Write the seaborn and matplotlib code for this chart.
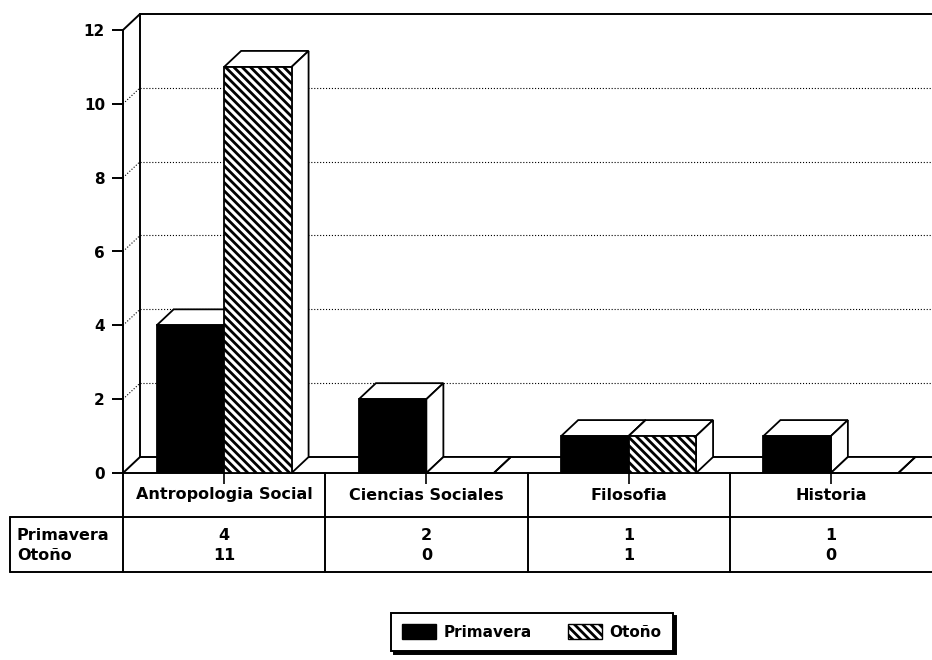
import matplotlib
matplotlib.use("Agg")
import matplotlib.pyplot as plt
import matplotlib.transforms as mtransforms
from matplotlib.patches import Polygon, Patch
from matplotlib.lines import Line2D
import seaborn as sns
import pandas as pd
import numpy as np

categorias = ["Antropologia Social", "Ciencias Sociales", "Filosofia", "Historia"]
series = ["Primavera", "Otoño"]
primavera = [4, 2, 1, 1]
otono = [11, 0, 1, 0]
yticks = [0, 2, 4, 6, 8, 10, 12]

df = pd.DataFrame({
    "Area": categorias * 2,
    "Semestre": [series[0]] * 4 + [series[1]] * 4,
    "Valor": primavera + otono,
})

sns.set_style("white")
plt.rcParams["font.family"] = ["DejaVu Sans"]
plt.rcParams["font.weight"] = "bold"
plt.rcParams["text.color"] = "black"
plt.rcParams["ytick.color"] = "black"
plt.rcParams["ytick.labelcolor"] = "black"
plt.rcParams["xtick.color"] = "black"
plt.rcParams["hatch.linewidth"] = 2.0

HATCH = "\\" * 4
W, H = 932, 660
fig = plt.figure(figsize=(W / 100, H / 100), dpi=100)
# front plane of the plot: x 123..932 px, y 473 (value 0) .. 13 px
ax = fig.add_axes([123 / W, (H - 473) / H, 809 / W, 460 / H])

sns.barplot(data=df, x="Area", y="Valor", hue="Semestre",
            palette={"Primavera": "black", "Otoño": "white"},
            width=0.667, edgecolor="black", linewidth=1.3,
            legend=False, ax=ax)

ax.set_xlim(-0.5, 3.5)
ax.set_ylim(0, 12 + 17 / (443 / 12))
sns.despine(ax=ax, left=True, bottom=True)
ax.set_xlabel("")
ax.set_ylabel("")

for bar in ax.containers[1]:
    bar.set_hatch(HATCH)

# depth of the 3D effect, px -> data units
o = ax.transData.transform((0, 0))
ddx, ddy = ax.transData.inverted().transform(o + np.array([17, 16]))

bars = sorted([b for c in ax.containers for b in c], key=lambda b: b.get_x())
for i, b in enumerate(bars):
    z = 3 + i * 0.1
    x0, w, h = b.get_x(), b.get_width(), b.get_height()
    x1 = x0 + w
    top = Polygon([(x0, h), (x1, h), (x1 + ddx, h + ddy), (x0 + ddx, h + ddy)],
                  closed=True, fc="white", ec="black", lw=1.3, zorder=z, clip_on=False)
    side = Polygon([(x1, 0), (x1 + ddx, ddy), (x1 + ddx, h + ddy), (x1, h)],
                   closed=True, fc="white", ec="black", lw=1.3, zorder=z, clip_on=False)
    ax.add_patch(top)
    ax.add_patch(side)
    b.set_zorder(z + 0.05)

# walls and floor
xl, xr = ax.get_xlim()
ymax = yticks[-1]
wall_kw = dict(color="black", lw=1.4, zorder=1, clip_on=False)
ax.plot([xl, xr], [0, 0], **wall_kw)
ax.plot([xl, xl + ddx], [0, ddy], **wall_kw)
ax.plot([xl + ddx, xr], [ddy, ddy], **wall_kw)
ax.plot([xl, xl], [0, ymax], **wall_kw)
ax.plot([xl, xl + ddx], [ymax, ymax + ddy], **wall_kw)
ax.plot([xl + ddx, xr], [ymax + ddy, ymax + ddy], **wall_kw)
ax.plot([xl + ddx, xl + ddx], [ddy, ymax + ddy], **wall_kw)
for v in yticks[1:-1]:
    ax.plot([xl, xl + ddx], [v, v + ddy], color="black", lw=0.8, ls=":", zorder=1, clip_on=False)
    ax.plot([xl + ddx, xr], [v + ddy, v + ddy], color="black", lw=0.8, ls=":", zorder=1, clip_on=False)

ax.set_yticks(yticks)
ax.set_yticklabels([str(t) for t in yticks], fontweight="bold", fontsize=11)
ax.tick_params(axis="y", direction="out", length=8, width=1.4, pad=5, left=True)
ax.set_xticks(range(len(categorias)))
ax.set_xticklabels([""] * len(categorias))
ax.tick_params(axis="x", direction="out", length=8, width=1.2, bottom=True)


# data table below the plot
def fy(py):
    return 1 - py / H


trans = mtransforms.blended_transform_factory(ax.transData, fig.transFigure)
line_kw = dict(color="black", lw=1.4)
for xb in np.arange(len(categorias)) - 0.5:
    fig.add_artist(Line2D([xb, xb], [fy(473), fy(572)], transform=trans, **line_kw))
fig.add_artist(Line2D([10 / W, 1], [fy(517), fy(517)], transform=fig.transFigure, **line_kw))
fig.add_artist(Line2D([10 / W, 1], [fy(572), fy(572)], transform=fig.transFigure, **line_kw))
fig.add_artist(Line2D([10 / W, 10 / W], [fy(517), fy(572)], transform=fig.transFigure, **line_kw))

FS = 11.5
for i, cat in enumerate(categorias):
    ax.text(i, fy(495), cat, transform=trans, ha="center", va="center",
            fontsize=FS, fontweight="bold")
    ax.text(i, fy(535), str(primavera[i]), transform=trans, ha="center", va="center",
            fontsize=FS, fontweight="bold")
    ax.text(i, fy(556), str(otono[i]), transform=trans, ha="center", va="center",
            fontsize=FS, fontweight="bold")
fig.text(17 / W, fy(535), series[0], ha="left", va="center", fontsize=FS, fontweight="bold")
fig.text(17 / W, fy(556), series[1], ha="left", va="center", fontsize=FS, fontweight="bold")

handles = [Patch(facecolor="black", edgecolor="black"),
           Patch(facecolor="white", edgecolor="black", hatch=HATCH)]
leg = fig.legend(handles, series, loc="center", bbox_to_anchor=(532 / W, fy(632)),
                 ncol=2, frameon=True, fancybox=False,
                 shadow={"color": "black", "alpha": 1},
                 edgecolor="black", framealpha=1,
                 handlelength=2.2, handleheight=1.1, handletextpad=0.5,
                 columnspacing=2.4, borderpad=0.75,
                 prop={"weight": "bold", "size": 11})
leg.get_frame().set_linewidth(1.4)

fig.savefig("out.png", dpi=100)
